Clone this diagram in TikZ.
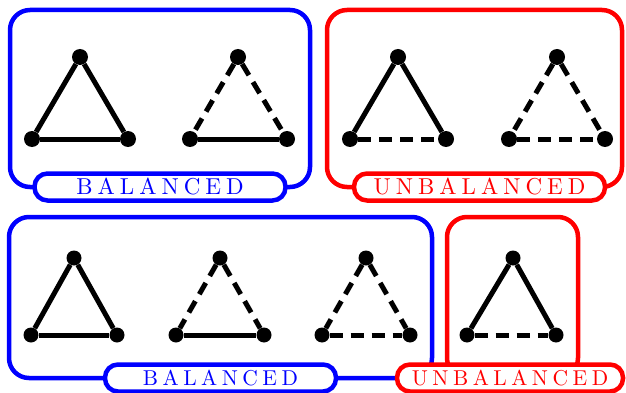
\documentclass[tikz,border=0pt]{standalone}
\usepackage{fontspec}
\newfontfamily\lblfont{lmroman10-regular.otf}
\newlength{\lblgap}
\newcommand{\lettersp}[1]{\lettersploop#1\relax}
\def\lettersploop#1#2{#1\ifx#2\relax\else\kern\lblgap\expandafter\lettersploop\expandafter#2\fi}
\begin{document}
\begin{tikzpicture}[x=1pt,y=-1pt,
  dot/.style={circle,fill=black,inner sep=0pt,minimum size=16pt},
  sdot/.style={dot,minimum size=15pt},
  edge/.style={line width=5pt},
  dedge/.style={edge,dash pattern=on 13pt off 8pt},
  bbox/.style={line width=4.5pt,rounded corners=20pt},
  pill/.style={draw,fill=white,line width=4.5pt,rounded corners=13pt,minimum height=27pt,inner sep=0pt},
  toplbl/.style={pill,minimum width=251pt,font=\lblfont\fontsize{23}{23}\selectfont\setlength{\lblgap}{5pt}},
  botlbl/.style={pill,font=\lblfont\fontsize{21.5}{21.5}\selectfont\setlength{\lblgap}{4.5pt}}]
\useasboundingbox (0,0) rectangle (626,393);
% boxes
\draw[bbox,draw=blue] (10,10) rectangle (310,187);
\draw[bbox,draw=red] (327,10) rectangle (622,187);
\draw[bbox,draw=blue] (9,217) rectangle (432,378);
\draw[bbox,draw=red] (447,217) rectangle (578,378);
% labels
\node[toplbl,draw=blue,text=blue] (lb1) at (160,187) {\lettersp{BALANCED}};
\node[toplbl,draw=red,text=red] (lu1) at (479.5,187) {\lettersp{UNBALANCED}};
\node[botlbl,draw=blue,text=blue,minimum width=231pt] (lb2) at (220.5,378) {\lettersp{BALANCED}};
\node[botlbl,draw=red,text=red,minimum width=226pt] (lu2) at (510,378) {\lettersp{UNBALANCED}};
% top triangles
\node[dot] (t1a) at (80,57) {};  \node[dot] (t1b) at (32,139) {};  \node[dot] (t1c) at (128,139) {};
\node[dot] (t2a) at (238,57) {}; \node[dot] (t2b) at (190,139) {}; \node[dot] (t2c) at (287,139) {};
\node[dot] (t3a) at (398,57) {}; \node[dot] (t3b) at (350,139) {}; \node[dot] (t3c) at (446,139) {};
\node[dot] (t4a) at (557,57) {}; \node[dot] (t4b) at (509,139) {}; \node[dot] (t4c) at (605,139) {};
% bottom triangles
\node[sdot] (t5a) at (74,258) {};  \node[sdot] (t5b) at (31,335) {};  \node[sdot] (t5c) at (117,335) {};
\node[sdot] (t6a) at (220,258) {}; \node[sdot] (t6b) at (176,335) {}; \node[sdot] (t6c) at (264,335) {};
\node[sdot] (t7a) at (366,258) {}; \node[sdot] (t7b) at (322,335) {}; \node[sdot] (t7c) at (410,335) {};
\node[sdot] (t8a) at (513,258) {}; \node[sdot] (t8b) at (467,335) {}; \node[sdot] (t8c) at (556,335) {};
% edges
\draw[edge] (t1a) -- (t1b); \draw[edge] (t1a) -- (t1c); \draw[edge] (t1b) -- (t1c);
\draw[dedge] (t2a) -- (t2b); \draw[dedge] (t2a) -- (t2c); \draw[edge] (t2b) -- (t2c);
\draw[edge] (t3a) -- (t3b); \draw[edge] (t3a) -- (t3c); \draw[dedge] (t3b) -- (t3c);
\draw[dedge] (t4a) -- (t4b); \draw[dedge] (t4a) -- (t4c); \draw[dedge] (t4b) -- (t4c);
\draw[edge] (t5a) -- (t5b); \draw[edge] (t5a) -- (t5c); \draw[edge] (t5b) -- (t5c);
\draw[dedge] (t6a) -- (t6b); \draw[dedge] (t6a) -- (t6c); \draw[edge] (t6b) -- (t6c);
\draw[dedge] (t7a) -- (t7b); \draw[dedge] (t7a) -- (t7c); \draw[dedge] (t7b) -- (t7c);
\draw[edge] (t8a) -- (t8b); \draw[edge] (t8a) -- (t8c); \draw[dedge] (t8b) -- (t8c);
\end{tikzpicture}
\end{document}
